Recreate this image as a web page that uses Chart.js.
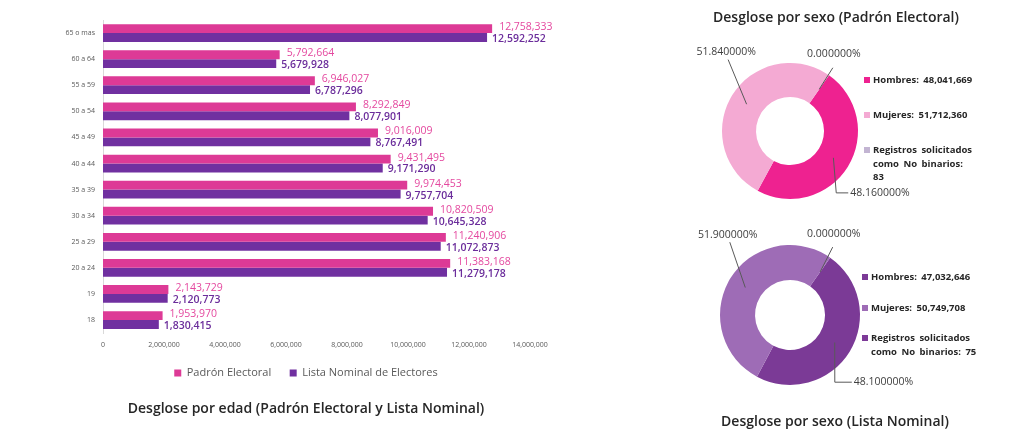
<!DOCTYPE html>
<html>
<head>
<meta charset="utf-8">
<script src="https://cdn.jsdelivr.net/npm/chart.js@4.4.1/dist/chart.umd.min.js"></script>
<style>
  html, body { margin:0; padding:0; background:#fff; width:1024px; height:440px; overflow:hidden; font-family:'Open Sans', sans-serif; }
  canvas { position:absolute; }
  .title { position:absolute; font-family:'Open Sans', sans-serif; font-weight:600; font-size:14px; color:#262626; white-space:nowrap; transform:translateX(-50%); }
  .legend { position:absolute; font-family:'Open Sans', sans-serif; font-weight:700; font-size:9.5px; line-height:13.5px; word-spacing:2px; color:#262626; }
  .legend .item { display:flex; align-items:flex-start; }
  .legend .sw { width:6px; height:6px; flex:none; margin-top:4px; margin-right:3px; }
</style>
</head>
<body>
<canvas id="bar" width="612" height="440" style="left:0;top:0;width:612px;height:440px"></canvas>
<canvas id="d1" width="260" height="220" style="left:660px;top:21px;width:260px;height:220px"></canvas>
<canvas id="d2" width="260" height="220" style="left:660px;top:205px;width:260px;height:220px"></canvas>
<div class="title" id="t1" style="left:836px;top:7px"></div>
<div class="title" id="t2" style="left:835px;top:411px"></div>
<div class="legend" id="lg1" style="left:864px;top:73px;width:110px"></div>
<div class="legend" id="lg2" style="left:862px;top:270px;width:120px"></div>
<script>
// ---------- DATA ----------
const ageCategories = ['65 o mas','60 a 64','55 a 59','50 a 54','45 a 49','40 a 44','35 a 39','30 a 34','25 a 29','20 a 24','19','18'];
const padronByAge = [12758333,5792664,6946027,8292849,9016009,9431495,9974453,10820509,11240906,11383168,2143729,1953970];
const listaByAge  = [12592252,5679928,6787296,8077901,8767491,9171290,9757704,10645328,11072873,11279178,2120773,1830415];
const barSeriesNames = ['Padrón Electoral','Lista Nominal de Electores'];
const barTitle = 'Desglose por edad (Padrón Electoral y Lista Nominal)';

const sexCategories = ['Hombres','Mujeres','Registros solicitados como No binarios'];
const padronBySex = [48041669,51712360,83];
const listaBySex  = [47032646,50749708,75];
const sexTitlePadron = 'Desglose por sexo (Padrón Electoral)';
const sexTitleLista  = 'Desglose por sexo (Lista Nominal)';

// ---------- STYLES ----------
const PINK = '#DD3A96', PURPLE = '#7030A0';
const PINK_LABEL = '#E4489F', PURPLE_LABEL = '#6B2D9B';
const donut1Colors = ['#EE2290','#F4AAD3','#C2B4D2'];
const donut2Colors = ['#7B3A96','#9E6CB6','#7D3A98'];
const fmt = v => v.toLocaleString('en-US');
const FONT = "'Open Sans', sans-serif";

// bar value labels plugin
const barLabels = {
  id:'barLabels',
  afterDatasetsDraw(chart){
    const ctx = chart.ctx;
    ctx.save();
    ctx.textBaseline = 'middle';
    ctx.textAlign = 'left';
    chart.data.datasets.forEach((ds, di) => {
      const meta = chart.getDatasetMeta(di);
      ctx.font = (di === 0 ? "400 " : "600 ") + "10.5px " + FONT;
      ctx.fillStyle = di === 0 ? PINK_LABEL : PURPLE_LABEL;
      const dx = di === 0 ? 7 : 5;
      const dy = di === 0 ? -1.5 : 1.5;
      meta.data.forEach((el, i) => {
        const p = el.getProps(['x','y'], true);
        ctx.fillText(fmt(ds.data[i]), p.x + dx, p.y + dy);
      });
    });
    ctx.restore();
  }
};

new Chart(document.getElementById('bar'), {
  type:'bar',
  data:{
    labels: ageCategories,
    datasets:[
      { label: barSeriesNames[0], data: padronByAge, backgroundColor: PINK, borderWidth:0 },
      { label: barSeriesNames[1], data: listaByAge, backgroundColor: PURPLE, borderWidth:0 }
    ]
  },
  options:{
    responsive:false, animation:false, indexAxis:'y',
    datasets:{ bar:{ categoryPercentage:0.68, barPercentage:1 } },
    layout:{ padding:{ top:20, right:0, left:0, bottom:0 } },
    scales:{
      x:{ min:0, max:14000000,
          grid:{ display:false, drawTicks:false },
          border:{ display:false },
          ticks:{ stepSize:2000000, callback: v => fmt(v), color:'#595959', font:{ size:7, family:FONT }, padding:8, maxRotation:0 },
          afterFit(s){ s.height = 16; } },
      y:{ grid:{ display:false, drawTicks:false },
          border:{ display:true, color:'#D9D9D9', width:1 },
          ticks:{ color:'#595959', font:{ size:7, family:FONT }, padding:8 },
          afterFit(s){ s.width = 103; } },
      yRight:{ type:'category', position:'right', display:true,
          grid:{ display:false, drawTicks:false },
          border:{ display:false },
          ticks:{ display:false },
          afterFit(s){ s.width = 82; } }
    },
    plugins:{
      legend:{ position:'bottom', labels:{ boxWidth:7, boxHeight:7, padding:18.5, color:'#595959', font:{ size:11, family:FONT } } },
      title:{ display:true, position:'bottom', text: barTitle, color:'#262626', font:{ size:14, weight:'600', family:FONT }, padding:{ top:12, bottom:22.6 } },
      tooltip:{ enabled:false }
    }
  },
  plugins:[barLabels]
});

// donut callouts
function pctText(values, i){
  const tot = values.reduce((a,b)=>a+b,0);
  const p = Math.round(values[i]/tot*10000)/100;
  return p.toFixed(6) + '%';
}
function makeCallouts(specs){
  return {
    id:'callouts',
    afterDatasetsDraw(chart){
      const ctx = chart.ctx;
      const vals = chart.data.datasets[0].data;
      const meta = chart.getDatasetMeta(0);
      ctx.save();
      ctx.strokeStyle = '#595959';
      ctx.lineWidth = 1;
      ctx.fillStyle = '#404040';
      ctx.font = "10.5px " + FONT;
      meta.data.forEach((arc, i) => {
        const s = specs[i];
        const a = arc.getProps(['x','y','startAngle','endAngle','innerRadius','outerRadius'], true);
        const mid = (a.startAngle + a.endAngle)/2;
        const rm = (a.innerRadius + a.outerRadius)/2;
        const sx = a.x + Math.cos(mid)*rm, sy = a.y + Math.sin(mid)*rm;
        const ex = a.x + s.ex*a.outerRadius, ey = a.y + s.ey*a.outerRadius;
        ctx.beginPath();
        ctx.moveTo(sx, sy);
        ctx.lineTo(ex, ey);
        if (s.elbow) ctx.lineTo(ex + s.elbow, ey);
        ctx.stroke();
        const txt = pctText(vals, i);
        if (s.elbow){
          ctx.textAlign = 'left'; ctx.textBaseline = 'middle';
          ctx.fillText(txt, ex + s.elbow + 2, ey);
        } else {
          ctx.textAlign = 'center'; ctx.textBaseline = 'bottom';
          ctx.fillText(txt, ex + (s.tx||0), ey - s.gap);
        }
      });
      ctx.restore();
    }
  };
}

function donut(id, values, colors, radius, specs){
  new Chart(document.getElementById(id), {
    type:'doughnut',
    data:{ labels: sexCategories, datasets:[{ data: values, backgroundColor: colors, borderWidth:0 }] },
    options:{
      responsive:false, animation:false,
      rotation:35, cutout:'50%', radius: radius,
      layout:{ padding:0 },
      plugins:{ legend:{ display:false }, tooltip:{ enabled:false } }
    },
    plugins:[makeCallouts(specs)]
  });
}
donut('d1', padronBySex, donut1Colors, 68, [
  { ex:0.68, ey:0.91, elbow:12 },
  { ex:-0.91, ey:-1.05, gap:2, tx:-2 },
  { ex:0.63, ey:-0.93, gap:8, tx:1 }
]);
donut('d2', listaBySex, donut2Colors, 70, [
  { ex:0.64, ey:0.96, elbow:17 },
  { ex:-0.86, ey:-1.04, gap:2, tx:-2 },
  { ex:0.61, ey:-0.97, gap:8, tx:1 }
]);

// titles & html legends
document.getElementById('t1').textContent = sexTitlePadron;
document.getElementById('t2').textContent = sexTitleLista;
function buildLegend(id, values, colors, gap){
  const el = document.getElementById(id);
  sexCategories.forEach((c, i) => {
    const it = document.createElement('div');
    it.className = 'item';
    if (i < sexCategories.length-1) it.style.marginBottom = gap + 'px';
    const sw = document.createElement('span'); sw.className = 'sw'; sw.style.background = colors[i];
    const tx = document.createElement('span'); tx.textContent = c + ': ' + fmt(values[i]);
    it.appendChild(sw); it.appendChild(tx);
    el.appendChild(it);
  });
}
buildLegend('lg1', padronBySex, donut1Colors, 21.5);
buildLegend('lg2', listaBySex, donut2Colors, 17);
</script>
</body>
</html>
